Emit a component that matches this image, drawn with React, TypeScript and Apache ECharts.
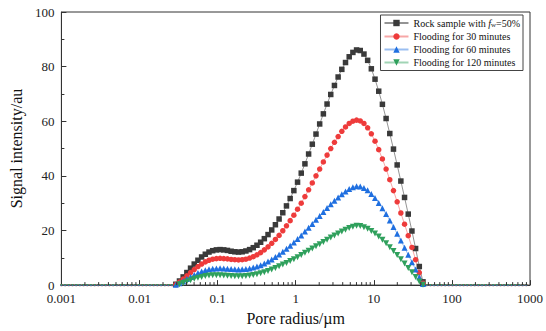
import React, { useEffect, useRef } from 'react';
import * as echarts from 'echarts';

// grid of 128 log-spaced pore radii (µm), 0.001 .. 1000
const POINTS = 128;
const radius: number[] = Array.from({ length: POINTS }, (_, i) => Math.pow(10, -3 + (6 * i) / (POINTS - 1)));

const seriesNames = [
  'Rock sample with fw=50%',
  'Flooding for 30 minutes',
  'Flooding for 60 minutes',
  'Flooding for 120 minutes',
];

const xTickLabels = ['0.001', '0.01', '0.1', '1', '10', '100', '1000'];
const yTickLabels = ['0', '20', '40', '60', '80', '100'];

const rock = [
  0,0,0,0,0,0,0,0,0,0, 0,0,0,0,0,0,0,0,0,0, 0,0,0,0,0,0,0,0,0,0, 0,
  0.3,1.5,3.0,4.6,6.2,7.7,9.1,10.3,11.3,
  12.1,12.6,12.9,13.0,12.9,12.7,12.4,12.2,12.1,12.2,
  12.5,13.0,13.7,14.6,15.7,17.0,18.5,20.2,22.1,24.2,
  26.5,29.0,31.7,34.6,37.7,41.0,44.4,48.0,51.6,55.3,
  59.0,62.7,66.3,69.8,73.1,76.2,79.0,81.5,83.6,85.2,
  86.1,85.9,84.6,82.3,79.2,75.4,71.0,66.2,61.0,55.5,
  49.8,44.0,38.1,32.1,26.0,19.8,13.4,6.8,1.2,0,
  0,0,0,0,0,0,0,0,0,0, 0,0,0,0,0,0,0,0,0,0, 0,0,0,0,0,0,0,
];

const flood30 = [
  0,0,0,0,0,0,0,0,0,0, 0,0,0,0,0,0,0,0,0,0, 0,0,0,0,0,0,0,0,0,0, 0,
  0.2,1.1,2.2,3.4,4.6,5.7,6.8,7.7,8.5,
  9.1,9.5,9.7,9.8,9.7,9.6,9.4,9.3,9.2,9.3,
  9.5,9.9,10.4,11.1,11.9,12.9,14.0,15.3,16.7,18.2,
  19.9,21.7,23.6,25.6,27.8,30.0,32.4,34.9,37.4,40.0,
  42.5,45.1,47.6,50.0,52.3,54.4,56.3,57.9,59.2,60.0,
  60.4,60.1,59.2,57.6,55.4,52.7,49.6,46.2,42.5,38.6,
  34.6,30.5,26.4,22.3,18.1,13.8,9.3,4.6,0.7,0,
  0,0,0,0,0,0,0,0,0,0, 0,0,0,0,0,0,0,0,0,0, 0,0,0,0,0,0,0,
];

const flood60 = [
  0,0,0,0,0,0,0,0,0,0, 0,0,0,0,0,0,0,0,0,0, 0,0,0,0,0,0,0,0,0,0, 0,
  0.15,0.7,1.4,2.2,3.0,3.7,4.4,5.0,5.4,
  5.8,6.0,6.1,6.2,6.1,6.0,5.9,5.8,5.75,5.8,
  5.9,6.1,6.4,6.8,7.3,7.9,8.6,9.4,10.3,11.2,
  12.2,13.3,14.4,15.6,16.9,18.2,19.6,21.0,22.4,23.9,
  25.3,26.8,28.2,29.6,30.9,32.1,33.3,34.3,35.2,35.8,
  36.2,36.1,35.6,34.7,33.4,31.9,30.1,28.1,26.0,23.7,
  21.3,18.8,16.3,13.7,11.1,8.4,5.7,2.9,0.4,0,
  0,0,0,0,0,0,0,0,0,0, 0,0,0,0,0,0,0,0,0,0, 0,0,0,0,0,0,0,
];

const flood120 = [
  0,0,0,0,0,0,0,0,0,0, 0,0,0,0,0,0,0,0,0,0, 0,0,0,0,0,0,0,0,0,0, 0,
  0,0.3,0.8,1.3,1.8,2.3,2.7,3.0,3.3,
  3.5,3.6,3.6,3.6,3.5,3.4,3.3,3.25,3.2,3.25,
  3.35,3.5,3.7,4.0,4.35,4.75,5.2,5.7,6.3,6.9,
  7.5,8.1,8.8,9.5,10.2,11.0,11.8,12.6,13.4,14.2,
  15.0,15.8,16.6,17.4,18.2,18.9,19.6,20.3,20.9,21.4,
  21.7,21.6,21.2,20.6,19.8,18.9,17.8,16.6,15.3,13.9,
  12.5,11.0,9.5,7.9,6.3,4.7,3.0,1.3,0.1,0,
  0,0,0,0,0,0,0,0,0,0, 0,0,0,0,0,0,0,0,0,0, 0,0,0,0,0,0,0,
];

const minorMantissas = [2, 3, 4, 5, 6, 7, 8, 9];
const decades = [0.001, 0.01, 0.1, 1, 10, 100];

const FONT = '"Liberation Serif", "Times New Roman", serif';

export default function App() {
  const ref = useRef<HTMLDivElement>(null);
  useEffect(() => {
    if (!ref.current) return;
    const chart = echarts.init(ref.current, undefined, { renderer: 'svg' });
    const minorTicks: number[][] = [];
    decades.forEach((d) => minorMantissas.forEach((m) => minorTicks.push([d * m, 0])));

    const mk = (arr: number[]) => radius.map((r, i) => [r, arr[i]]);

    const styles = [
      { color: '#3a3a3a', line: 'rgba(60,60,60,0.55)', symbol: 'rect', rotate: 0, data: rock, size: 5.5 },
      { color: '#ee3b3b', line: 'rgba(238,59,59,0.45)', symbol: 'circle', rotate: 0, data: flood30, size: 5.5 },
      { color: '#1f6fe0', line: 'rgba(31,111,224,0.45)', symbol: 'triangle', rotate: 0, data: flood60, size: 6 },
      { color: '#2fa05c', line: 'rgba(47,160,92,0.45)', symbol: 'triangle', rotate: 180, data: flood120, size: 6 },
    ];

    chart.setOption({
      animation: false,
      backgroundColor: '#fff',
      grid: { left: 53, right: 16, top: 12, bottom: 38, show: true, borderColor: '#333', borderWidth: 1 },
      legend: {
        data: seriesNames,
        orient: 'vertical',
        right: 23,
        top: 15,
        itemWidth: 24,
        itemHeight: 8,
        itemGap: 3,
        padding: [3, 3, 3, 3],
        borderColor: '#444',
        borderWidth: 1,
        borderRadius: 0,
        backgroundColor: '#fff',
        formatter: (name: string) =>
          name === seriesNames[0] ? '{n|Rock sample with }{i|f}{s|w}{n|=50%}' : name,
        textStyle: {
          fontFamily: FONT,
          fontSize: 10,
          color: '#111',
          rich: {
            n: { fontFamily: FONT, fontSize: 10, color: '#111' },
            i: { fontFamily: FONT, fontSize: 10, fontStyle: 'italic', color: '#111' },
            s: { fontFamily: FONT, fontSize: 7, color: '#111', padding: [4, 0, 0, 0] },
          },
        },
      },
      xAxis: {
        type: 'log',
        logBase: 10,
        min: 0.001,
        max: 1000,
        splitNumber: 6,
        name: 'Pore radius/µm',
        nameLocation: 'middle',
        nameGap: 21,
        nameTextStyle: { fontFamily: FONT, fontSize: 16, color: '#111' },
        axisLine: { lineStyle: { color: '#333', width: 1 } },
        axisTick: { inside: true, length: 5, lineStyle: { color: '#333' } },
        splitLine: { show: false },
        axisLabel: {
          fontFamily: FONT,
          fontSize: 13,
          color: '#222',
          margin: 7,
          formatter: (v: number) => xTickLabels[Math.round(Math.log10(v)) + 3] ?? '',
        },
      },
      yAxis: {
        type: 'value',
        min: 0,
        max: 100,
        interval: 20,
        name: 'Signal intensity/au',
        nameLocation: 'middle',
        nameGap: 22,
        nameTextStyle: { fontFamily: FONT, fontSize: 16, color: '#111' },
        axisLine: { show: true, lineStyle: { color: '#333', width: 1 } },
        axisTick: { show: true, inside: true, length: 5, lineStyle: { color: '#333' } },
        minorTick: { show: true, splitNumber: 2, length: 3, lineStyle: { color: '#333' } },
        splitLine: { show: false },
        axisLabel: {
          fontFamily: FONT,
          fontSize: 13,
          color: '#222',
          margin: 7,
          formatter: (v: number) => yTickLabels[Math.round(v / 20)] ?? '',
        },
      },
      series: [
        ...styles.map((s, k) => ({
          name: seriesNames[k],
          type: 'line',
          data: mk(s.data),
          symbol: s.symbol,
          symbolRotate: s.rotate,
          symbolSize: (v: number[]) => (v[1] === 0 ? 2 : s.size),
          showAllSymbol: true,
          itemStyle: { color: s.color },
          lineStyle: { color: s.line, width: 1 },
          emphasis: { disabled: true },
          clip: false,
        })),
        {
          type: 'custom',
          silent: true,
          data: minorTicks,
          clip: false,
          z: 10,
          renderItem: (params: any, api: any) => {
            const p = api.coord([api.value(0), 0]);
            return {
              type: 'line',
              shape: { x1: p[0], y1: p[1], x2: p[0], y2: p[1] - 3 },
              style: { stroke: '#333', lineWidth: 1 },
            };
          },
        },
      ],
    });
    return () => chart.dispose();
  }, []);
  return <div ref={ref} style={{ width: 546, height: 331, position: 'absolute', left: 0, top: 0 }} />;
}
